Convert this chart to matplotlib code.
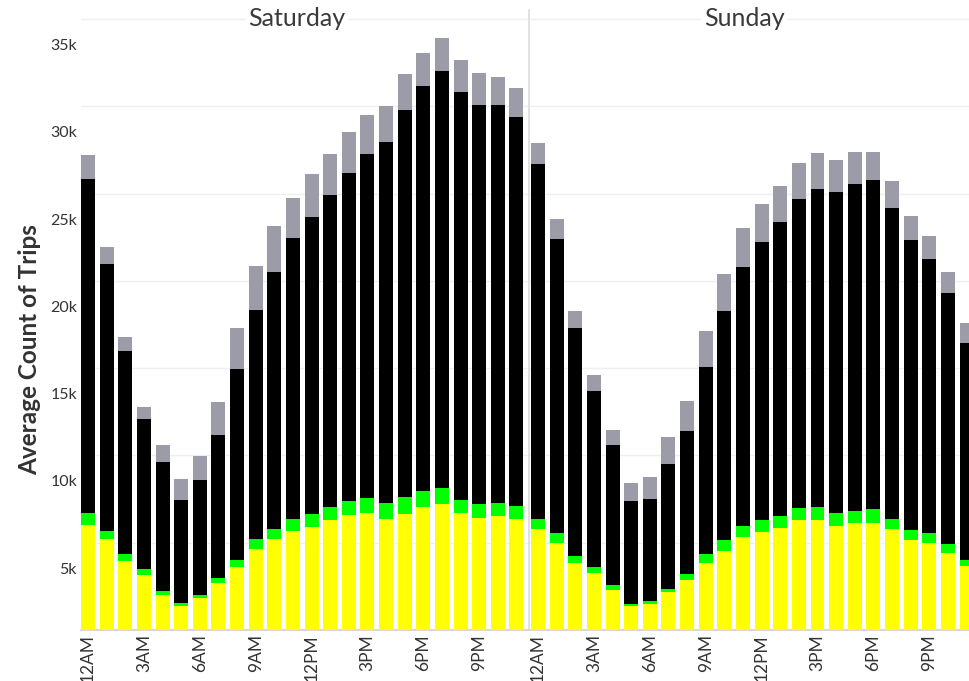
import matplotlib
matplotlib.use("Agg")
import matplotlib.pyplot as plt
from matplotlib.transforms import ScaledTranslation, blended_transform_factory
import numpy as np

plt.rcParams['font.family'] = ['Lato', 'DejaVu Sans']

days = ["Saturday", "Sunday"]
hours = list(range(24))
tick_hours = [0, 3, 6, 9, 12, 15, 18, 21]
tick_labels = ["12AM", "3AM", "6AM", "9AM", "12PM", "3PM", "6PM", "9PM"]
y_ticks = [5000, 10000, 15000, 20000, 25000, 30000, 35000]
y_tick_labels = ["5k", "10k", "15k", "20k", "25k", "30k", "35k"]

# stacked segments (bottom -> top): yellow, green, black, gray
sat_yellow = [6017, 5214, 3954, 3152, 2006, 1392, 1851, 2693, 3610, 4641, 5214, 5673,
              5885, 6303, 6590, 6704, 6360, 6647, 7048, 7220, 6704, 6418, 6532, 6360]
sat_green = [670, 458, 401, 344, 246, 172, 155, 304, 401, 573, 573, 688,
             762, 728, 802, 860, 917, 974, 917, 917, 745, 802, 745, 745]
sat_black = [19138, 15299, 11649, 8578, 7357, 5885, 6590, 8160, 10961, 13122, 14726, 16101,
             17001, 17895, 18777, 19694, 20668, 22158, 23224, 23911, 23361, 22846, 22788, 22273]
sat_gray = [1375, 957, 785, 722, 974, 1186, 1358, 1925, 2332, 2521, 2636, 2275,
            2464, 2332, 2349, 2235, 2063, 2063, 1891, 1891, 1868, 1834, 1639, 1662]

sun_yellow = [5770, 4985, 3839, 3266, 2292, 1375, 1490, 2177, 2865, 3839, 4527, 5329,
              5615, 5845, 6303, 6303, 5959, 6131, 6131, 5787, 5157, 4985, 4412, 3667]
sun_green = [573, 573, 401, 344, 287, 115, 172, 172, 344, 516, 630, 630,
             688, 688, 688, 745, 745, 688, 802, 573, 573, 573, 516, 344]
sun_black = [20359, 16846, 13082, 10102, 8005, 5885, 5827, 7145, 8177, 10732, 13139, 14841,
             15929, 16846, 17689, 18221, 18393, 18737, 18835, 17820, 16617, 15717, 14382, 12451]
sun_gray = [1186, 1129, 957, 917, 860, 1031, 1261, 1547, 1719, 2046, 2103, 2218,
            2177, 2063, 2063, 2046, 1816, 1816, 1604, 1530, 1375, 1301, 1203, 1146]

colors = ["#ffff00", "#00ff00", "#000000", "#9b9ca7"]
W, H = 969, 681
fig = plt.figure(figsize=(W / 100, H / 100), dpi=100)

def px_axes(x0, x1, y0, y1):
    return fig.add_axes([x0 / W, (H - y1) / H, (x1 - x0) / W, (y1 - y0) / H])

ax1 = px_axes(81, 528, 0, 630)
ax2 = px_axes(529, 969, 0, 630)
ymax = 36100

panels = [
    (ax1, [sat_yellow, sat_green, sat_black, sat_gray], (-0.376, 23.62)),
    (ax2, [sun_yellow, sun_green, sun_black, sun_gray], (-0.483, 23.13)),
]
for (ax, series, xl), day in zip(panels, days):
    bottom = np.zeros(24)
    for vals, c in zip(series, colors):
        ax.bar(hours, vals, bottom=bottom, width=0.75, color=c, linewidth=0, zorder=3)
        bottom += np.array(vals)
    ax.set_xlim(*xl)
    ax.set_ylim(0, ymax)
    ax.set_yticks(y_ticks)
    ax.yaxis.grid(True, color="#efefef", linewidth=1, zorder=0)
    ax.set_axisbelow(True)
    for s in ["top", "right", "left"]:
        ax.spines[s].set_visible(False)
    ax.spines["bottom"].set_color("#cfcfcf")
    ax.spines["bottom"].set_linewidth(1.2)
    ax.tick_params(axis="y", length=0, labelleft=False)
    ax.tick_params(axis="x", length=0, pad=3)
    ax.set_xticks(tick_hours)
    ax.set_xticklabels(tick_labels, rotation=90, fontsize=12.5, color="#333333",
                       va="top", ha="center")
    ax.set_facecolor("none")

# y tick labels (drawn displaced below their gridlines as in the reference)
trans = blended_transform_factory(ax1.transAxes, ax1.transData) + \
    ScaledTranslation(-4 / 100, -27 / 100, fig.dpi_scale_trans)
for v, lab in zip(y_ticks, y_tick_labels):
    ax1.text(0, v, lab, transform=trans, ha="right", va="center",
             fontsize=11.5, color="#333333")

# divider
fig.add_artist(plt.Line2D([528.5 / W, 528.5 / W], [(H - 630) / H, (H - 10) / H],
                          color="#dcdcdc", linewidth=1.2))

# headers
for xc, day in zip([297, 744], days):
    fig.text(xc / W, (H - 19) / H, day, ha="center", va="center", fontsize=18,
             fontweight="normal", color="#3a3a3a",
             bbox=dict(facecolor="white", edgecolor="none", pad=2))

fig.text(30 / W, (H - 350) / H, "Average Count of Trips", rotation=90,
         ha="center", va="center", fontsize=17.5, fontweight="bold", color="#333333")

fig.savefig("out.png", dpi=100)
